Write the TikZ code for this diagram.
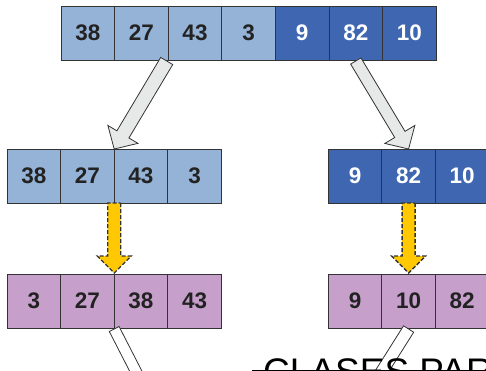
\documentclass[tikz,border=0pt]{standalone}
\usepackage{fontspec}
\setmainfont{Liberation Sans}
\usetikzlibrary{calc,positioning}
\definecolor{lblue}{HTML}{95B3D7}
\definecolor{dblue}{HTML}{3F67B1}
\definecolor{lpurp}{HTML}{C6A0CB}
\definecolor{edge}{HTML}{333333}
\definecolor{txt}{HTML}{222222}
\definecolor{ygold}{HTML}{FFC800}
\definecolor{lgrey}{HTML}{E7E8E8}
\newcommand{\blkarrow}[6]{%
  \path (#2) coordinate (ba-t) (#3) coordinate (ba-p);
  \path ($(ba-p)!#6!(ba-t)$) coordinate (ba-h);
  \draw[#1] ($(ba-t)!#4!90:(ba-p)$) -- ($(ba-h)!#4!90:(ba-p)$) -- ($(ba-h)!#5!90:(ba-p)$) -- (ba-p)
     -- ($(ba-h)!#5!-90:(ba-p)$) -- ($(ba-h)!#4!-90:(ba-p)$) -- ($(ba-t)!#4!-90:(ba-p)$) -- cycle;}
\tikzset{
  cellbox/.style={draw=edge, line width=0.8pt, minimum width=53.6pt, minimum height=54pt,
    inner sep=0pt, outer sep=0pt, font=\fontsize{22.5}{26}\selectfont\bfseries},
  lcell/.style={cellbox, fill=lblue, text=txt},
  dcell/.style={cellbox, fill=dblue, text=white},
  pcell/.style={cellbox, fill=lpurp, text=txt},
  greyarr/.style={fill=lgrey, draw=edge, line width=0.8pt, line join=miter},
  goldarr/.style={fill=ygold, draw=edge, line width=1.3pt, dash pattern=on 4pt off 2pt},
  whitearr/.style={fill=white, draw=edge, line width=0.8pt}
}
\begin{document}
\begin{tikzpicture}[x=1pt, y=-1pt]
\useasboundingbox (0,0) rectangle (486,371);
\clip (0,0) rectangle (486,371);
% top row
\node[lcell] (t1) at (87.8,33) {38};
\node[lcell, right=0pt of t1] (t2) {27};
\node[lcell, right=0pt of t2] (t3) {43};
\node[lcell, right=0pt of t3] (t4) {3};
\node[dcell, right=0pt of t4] (t5) {9};
\node[dcell, right=0pt of t5] (t6) {82};
\node[dcell, right=0pt of t6] (t7) {10};
% second row
\node[lcell] (a1) at (33.8,176) {38};
\node[lcell, right=0pt of a1] (a2) {27};
\node[lcell, right=0pt of a2] (a3) {43};
\node[lcell, right=0pt of a3] (a4) {3};
\node[dcell] (b1) at (355,176) {9};
\node[dcell, right=0pt of b1] (b2) {82};
\node[dcell, right=0pt of b2] (b3) {10};
% third row
\node[pcell] (c1) at (33.8,301) {3};
\node[pcell, right=0pt of c1] (c2) {27};
\node[pcell, right=0pt of c2] (c3) {38};
\node[pcell, right=0pt of c3] (c4) {43};
\node[pcell] (d1) at (355,301) {9};
\node[pcell, right=0pt of d1] (d2) {10};
\node[pcell, right=0pt of d2] (d3) {82};
% grey split arrows
\blkarrow{greyarr}{[xshift=-1.5pt,yshift=-1pt]t3.south west}{a2.north east}{7pt}{17.5pt}{17pt}
\blkarrow{greyarr}{[yshift=-1pt]t6.south}{b2.north}{6pt}{17.5pt}{17pt}
% gold sort arrows
\blkarrow{goldarr}{a2.south east}{[yshift=1pt]c2.north east}{6.5pt}{17pt}{17pt}
\blkarrow{goldarr}{b2.south}{[yshift=1pt]d2.north}{6.5pt}{17pt}{17pt}
% white merge arrows (tails)
\coordinate (wl) at (168,434);
\coordinate (wr) at (345,430);
\blkarrow{whitearr}{[yshift=-1pt]c2.south east}{wl}{5.5pt}{16pt}{16pt}
\blkarrow{whitearr}{[yshift=-1pt]d2.south}{wr}{6pt}{16pt}{16pt}
% bottom title
\node[anchor=base west, inner sep=0pt, font=\fontsize{37}{44}\selectfont] (title) at (263,384.5) {CLASES PAR};
\coordinate (ls) at (252,370);
\coordinate (le) at (486,370);
\draw[line width=1pt] (ls) -- (le);
\end{tikzpicture}
\end{document}
